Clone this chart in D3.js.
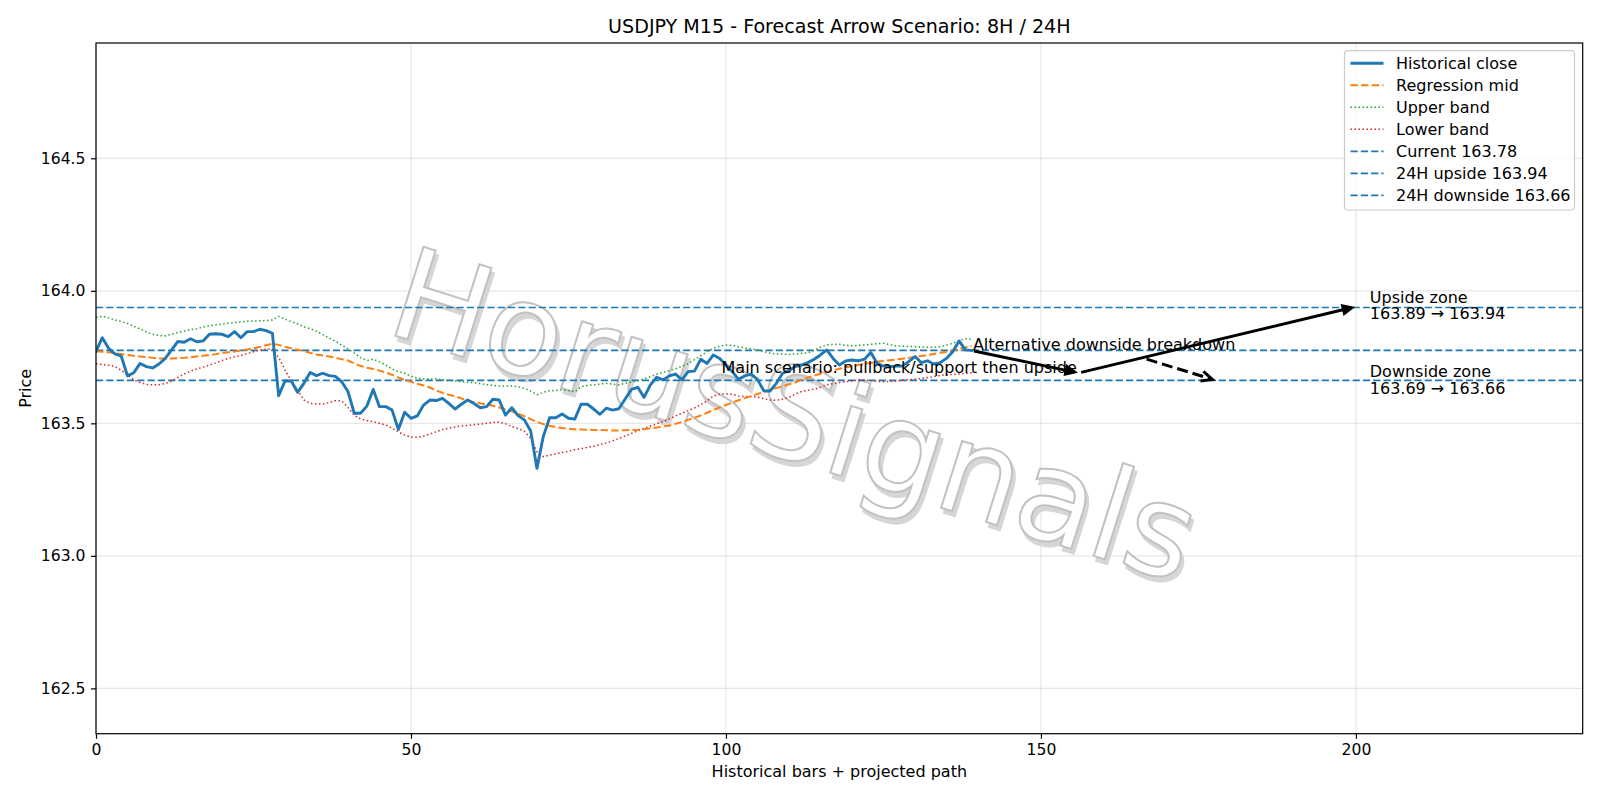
<!DOCTYPE html>
<html>
<head>
<meta charset="utf-8">
<script src="https://cdn.jsdelivr.net/npm/d3@7"></script>
<style>
  html, body { margin: 0; padding: 0; background: #ffffff; }
  svg text { font-family: "DejaVu Sans", sans-serif; fill: #000; }
</style>
</head>
<body>
<svg id="chart" width="1600" height="800"></svg>
<script>
// ---------------- DATA ----------------
const close = [163.772,163.823,163.783,163.762,163.754,163.679,163.691,163.726,163.714,163.709,
163.724,163.745,163.777,163.809,163.806,163.819,163.808,163.811,163.836,163.838,
163.836,163.827,163.846,163.823,163.846,163.846,163.855,163.850,163.840,163.604,
163.660,163.660,163.617,163.651,163.692,163.680,163.689,163.680,163.677,163.657,
163.620,163.538,163.538,163.565,163.628,163.563,163.563,163.550,163.477,163.542,
163.519,163.528,163.569,163.588,163.586,163.594,163.575,163.554,163.572,163.588,
163.575,163.559,163.563,163.591,163.588,163.531,163.559,163.529,163.513,163.471,
163.330,163.450,163.521,163.521,163.535,163.519,163.516,163.572,163.572,163.554,
163.534,163.557,163.550,163.555,163.592,163.628,163.636,163.598,163.645,163.674,
163.664,163.679,163.686,163.664,163.695,163.697,163.742,163.726,163.758,163.745,
163.720,163.695,163.666,163.679,163.686,163.666,163.623,163.622,163.651,163.689,
163.699,163.714,163.720,163.729,163.742,163.758,163.777,163.745,163.720,163.735,
163.739,163.736,163.742,163.767,163.726,163.716,163.714,163.716,163.716,163.733,
163.752,163.729,163.736,163.724,163.729,163.745,163.770,163.811,163.777,163.775];

const regMid = [163.772,163.770,163.768,163.765,163.762,163.758,163.755,163.752,163.750,163.747,
163.745,163.745,163.745,163.746,163.747,163.749,163.752,163.755,163.758,163.761,
163.765,163.768,163.771,163.775,163.779,163.783,163.788,163.795,163.800,163.796,
163.789,163.783,163.778,163.772,163.766,163.760,163.756,163.752,163.748,163.742,
163.737,163.726,163.716,163.710,163.705,163.699,163.692,163.683,163.673,163.664,
163.657,163.649,163.643,163.635,163.624,163.615,163.608,163.602,163.594,163.585,
163.580,163.576,163.571,163.566,163.560,163.553,163.545,163.536,163.527,163.516,
163.505,163.497,163.491,163.486,163.482,163.480,163.478,163.477,163.476,163.475,
163.475,163.474,163.473,163.473,163.474,163.475,163.476,163.478,163.481,163.484,
163.488,163.492,163.498,163.505,163.513,163.521,163.530,163.540,163.550,163.560,
163.569,163.578,163.587,163.595,163.603,163.611,163.618,163.626,163.633,163.640,
163.647,163.654,163.664,163.672,163.680,163.687,163.694,163.700,163.706,163.711,
163.716,163.720,163.725,163.728,163.732,163.735,163.738,163.741,163.744,163.747,
163.751,163.754,163.758,163.762,163.766,163.770,163.775,163.780,163.786,163.792];

const upperBand = [163.900,163.904,163.898,163.890,163.884,163.877,163.866,163.856,163.845,163.836,
163.831,163.830,163.836,163.843,163.848,163.853,163.857,163.863,163.868,163.871,
163.874,163.878,163.880,163.883,163.885,163.886,163.887,163.888,163.890,163.903,
163.893,163.884,163.875,163.865,163.857,163.848,163.835,163.822,163.810,163.795,
163.781,163.765,163.748,163.737,163.742,163.732,163.720,163.705,163.695,163.689,
163.678,163.670,163.667,163.667,163.667,163.664,163.661,163.660,163.657,163.655,
163.653,163.650,163.646,163.643,163.641,163.641,163.641,163.638,163.632,163.622,
163.608,163.617,163.623,163.624,163.626,163.624,163.619,163.638,163.643,163.645,
163.648,163.651,163.648,163.645,163.651,163.656,163.661,163.668,163.676,163.685,
163.692,163.699,163.706,163.715,163.725,163.740,163.755,163.770,163.783,163.791,
163.796,163.794,163.789,163.785,163.781,163.777,163.770,163.765,163.762,163.761,
163.760,163.762,163.764,163.766,163.775,163.787,163.796,163.798,163.798,163.794,
163.793,163.794,163.796,163.798,163.801,163.802,163.797,163.792,163.791,163.790,
163.789,163.788,163.787,163.787,163.789,163.795,163.802,163.812,163.820,163.817];

const lowerBand = [163.725,163.722,163.719,163.715,163.700,163.682,163.664,163.654,163.647,163.645,
163.646,163.650,163.660,163.673,163.686,163.697,163.705,163.712,163.720,163.728,
163.737,163.745,163.751,163.756,163.763,163.770,163.777,163.780,163.780,163.749,
163.701,163.660,163.626,163.588,163.575,163.573,163.573,163.578,163.585,163.585,
163.560,163.530,163.516,163.511,163.506,163.500,163.494,163.482,163.468,163.455,
163.449,163.447,163.452,163.460,163.468,163.477,163.482,163.486,163.490,163.492,
163.495,163.497,163.500,163.503,163.505,163.498,163.488,163.480,163.470,163.443,
163.393,163.374,163.380,163.385,163.390,163.395,163.400,163.405,163.409,163.413,
163.420,163.426,163.434,163.443,163.452,163.462,163.472,163.481,163.490,163.498,
163.507,163.517,163.528,163.538,163.548,163.558,163.570,163.585,163.603,163.610,
163.611,163.610,163.603,163.601,163.601,163.599,163.593,163.588,163.587,163.592,
163.598,163.610,163.620,163.625,163.629,163.636,163.645,163.650,163.654,163.657,
163.660,163.663,163.664,163.661,163.658,163.657,163.658,163.660,163.662,163.665,
163.666,163.669,163.673,163.676,163.681,163.683,163.685,163.686,163.689,163.691];

const levelNames  = ["Current 163.78", "24H upside 163.94", "24H downside 163.66"];
const levelValues = [163.775, 163.937, 163.662];

const xTicks = [0, 50, 100, 150, 200];
const yTicks = [162.5, 163.0, 163.5, 164.0, 164.5];
const xDomain = [0, 236];
const yDomain = [162.329, 164.935];

// arrows
const arrowStarts = [[139, 163.775], [156, 163.69], [166.4, 163.745]];
const arrowEnds   = [[156, 163.69], [200, 163.94], [177.6, 163.663]];
const arrowDashed = [false, false, true];

// annotations
const noteTexts = ["Main scenario: pullback/support then upside", "Alternative downside breakdown"];
const notePos   = [[99.3, 163.69], [139.2, 163.776]];
const zoneTitles = ["Upside zone", "Downside zone"];
const zoneRanges = ["163.89 \u2192 163.94", "163.69 \u2192 163.66"];
const zonePos    = [[202.2, 163.94], [202.2, 163.66]];

const titleText = "USDJPY M15 - Forecast Arrow Scenario: 8H / 24H";
const xLabel = "Historical bars + projected path";
const yLabel = "Price";
const watermark = "HorusSignals";

// ---------------- LAYOUT ----------------
const L = 96, R = 1582.7, T = 43, B = 733.7;
const FS = 16;
const TFS = 15.6;
const svg = d3.select("#chart");
const x = d3.scaleLinear().domain(xDomain).range([L, R]);
const y = d3.scaleLinear().domain(yDomain).range([B, T]);

// grid
const grid = svg.append("g");
grid.selectAll(".gx").data(xTicks).enter().append("line")
  .attr("x1", d => x(d)).attr("x2", d => x(d)).attr("y1", T).attr("y2", B)
  .attr("stroke", "#b0b0b0").attr("stroke-opacity", 0.3).attr("stroke-width", 1.2);
grid.selectAll(".gy").data(yTicks).enter().append("line")
  .attr("y1", d => y(d)).attr("y2", d => y(d)).attr("x1", L).attr("x2", R)
  .attr("stroke", "#b0b0b0").attr("stroke-opacity", 0.3).attr("stroke-width", 1.2);

// clip
const defs = svg.append("defs");
defs.append("clipPath").attr("id", "clipPlot").append("rect")
  .attr("x", L).attr("y", T).attr("width", R - L).attr("height", B - T);

// watermark
const wmOuter = svg.append("g").attr("clip-path", "url(#clipPlot)");
const wm = wmOuter.append("g").attr("transform", "translate(795,415) rotate(17.5)");
wm.append("text").text(watermark)
  .attr("x", 4).attr("y", 4)
  .attr("text-anchor", "middle").attr("dominant-baseline", "central")
  .style("font-size", "128px").style("fill", "#d6d6d6").style("stroke", "#d6d6d6").style("stroke-width", 2);
wm.append("text").text(watermark)
  .attr("text-anchor", "middle").attr("dominant-baseline", "central")
  .style("font-size", "128px").style("fill", "#ffffff").style("stroke", "#c2c2c2").style("stroke-width", 2);

// plot content
const plot = svg.append("g").attr("clip-path", "url(#clipPlot)");
const lineGen = d3.line().x((d, i) => x(i)).y(d => y(d));

plot.selectAll(".lvl").data(levelValues).enter().append("line")
  .attr("x1", L).attr("x2", R).attr("y1", d => y(d)).attr("y2", d => y(d))
  .attr("stroke", "#1f77b4").attr("stroke-width", 1.7).attr("stroke-dasharray", "7.2,3.1");

plot.append("path").datum(upperBand).attr("d", lineGen)
  .attr("fill", "none").attr("stroke", "#2ca02c").attr("stroke-width", 1.5).attr("stroke-dasharray", "1.5,2.5");
plot.append("path").datum(lowerBand).attr("d", lineGen)
  .attr("fill", "none").attr("stroke", "#d62728").attr("stroke-width", 1.5).attr("stroke-dasharray", "1.5,2.5");
plot.append("path").datum(regMid).attr("d", lineGen)
  .attr("fill", "none").attr("stroke", "#ff7f0e").attr("stroke-width", 2).attr("stroke-dasharray", "7.4,3.2");
plot.append("path").datum(close).attr("d", lineGen)
  .attr("fill", "none").attr("stroke", "#1f77b4").attr("stroke-width", 2.9).attr("stroke-linejoin", "round").attr("stroke-linecap", "square");

// arrows
function drawArrow(g, p1, p2, dashed) {
  const x1 = x(p1[0]), y1 = y(p1[1]), x2 = x(p2[0]), y2 = y(p2[1]);
  const dx = x2 - x1, dy = y2 - y1, len = Math.hypot(dx, dy);
  const ux = dx / len, uy = dy / len;
  const sh = 2.5;
  const sx = x1 + ux * sh, sy = y1 + uy * sh;
  const ex = x2 - ux * sh, ey = y2 - uy * sh;
  const hl = 11, hw = 5;
  g.append("line").attr("x1", sx).attr("y1", sy)
    .attr("x2", ex - ux * (dashed ? 1 : hl * 0.6)).attr("y2", ey - uy * (dashed ? 1 : hl * 0.6))
    .attr("stroke", "#000").attr("stroke-width", 3)
    .attr("stroke-dasharray", dashed ? "11,5" : null);
  const bx = ex - ux * hl, by = ey - uy * hl;
  const px = -uy, py = ux;
  if (dashed) {
    g.append("path")
      .attr("d", `M${bx + px * hw},${by + py * hw}L${ex},${ey}L${bx - px * hw},${by - py * hw}`)
      .attr("fill", "none").attr("stroke", "#000").attr("stroke-width", 3).attr("stroke-linejoin", "miter");
  } else {
    g.append("path")
      .attr("d", `M${bx + px * hw},${by + py * hw}L${ex},${ey}L${bx - px * hw},${by - py * hw}Z`)
      .attr("fill", "#000").attr("stroke", "#000").attr("stroke-width", 1.5).attr("stroke-linejoin", "miter");
  }
}
const arrows = svg.append("g");
arrowStarts.forEach((s, i) => drawArrow(arrows, s, arrowEnds[i], arrowDashed[i]));

// annotations
svg.selectAll(".note").data(noteTexts).enter().append("text")
  .attr("x", (d, i) => x(notePos[i][0])).attr("y", (d, i) => y(notePos[i][1]))
  .style("font-size", FS + "px").text(d => d);

zoneTitles.forEach((t, i) => {
  const cx = x(zonePos[i][0]), cy = y(zonePos[i][1]);
  const tx = svg.append("text").attr("x", cx).style("font-size", FS + "px");
  tx.append("tspan").attr("x", cx).attr("y", cy - 4).text(t);
  tx.append("tspan").attr("x", cx).attr("y", cy + 12.6).text(zoneRanges[i]);
});

// frame
svg.append("rect").attr("x", L).attr("y", T).attr("width", R - L).attr("height", B - T)
  .attr("fill", "none").attr("stroke", "#000").attr("stroke-width", 1.2);

// axes
const xAxis = svg.append("g").attr("transform", `translate(0,${B})`)
  .call(d3.axisBottom(x).tickValues(xTicks).tickFormat(d3.format("d")).tickSize(5).tickPadding(5.5));
const yAxis = svg.append("g").attr("transform", `translate(${L},0)`)
  .call(d3.axisLeft(y).tickValues(yTicks).tickFormat(d3.format(".1f")).tickSize(5).tickPadding(5.5));
[xAxis, yAxis].forEach(a => {
  a.select(".domain").remove();
  a.selectAll(".tick line").attr("stroke", "#000").attr("stroke-width", 1.2);
  a.selectAll(".tick text").style("font-size", TFS + "px").style("font-family", "DejaVu Sans").attr("fill", "#000");
});

// title and labels
svg.append("text").attr("x", (L + R) / 2).attr("y", 33).attr("text-anchor", "middle")
  .style("font-size", "19.1px").text(titleText);
svg.append("text").attr("x", (L + R) / 2).attr("y", 777).attr("text-anchor", "middle")
  .style("font-size", FS + "px").text(xLabel);
svg.append("text").attr("transform", `translate(31,${(T + B) / 2}) rotate(-90)`).attr("text-anchor", "middle")
  .style("font-size", FS + "px").text(yLabel);

// legend
const legendItems = [
  {name: "Historical close", color: "#1f77b4", w: 2.9, dash: null},
  {name: "Regression mid", color: "#ff7f0e", w: 2, dash: "7.4,3.2"},
  {name: "Upper band", color: "#2ca02c", w: 1.5, dash: "1.5,2.5"},
  {name: "Lower band", color: "#d62728", w: 1.5, dash: "1.5,2.5"},
  {name: levelNames[0], color: "#1f77b4", w: 1.7, dash: "7.2,3.1"},
  {name: levelNames[1], color: "#1f77b4", w: 1.7, dash: "7.2,3.1"},
  {name: levelNames[2], color: "#1f77b4", w: 1.7, dash: "7.2,3.1"}
];
const lg = svg.append("g");
lg.append("rect").attr("x", 1344.5).attr("y", 50.7).attr("width", 230).attr("height", 159.3)
  .attr("rx", 3.5).attr("fill", "#fff").attr("fill-opacity", 0.8).attr("stroke", "#cccccc").attr("stroke-width", 1.2);
legendItems.forEach((it, i) => {
  const cy = 63.3 + i * 22;
  lg.append("line").attr("x1", 1350.5).attr("x2", 1383.5).attr("y1", cy).attr("y2", cy)
    .attr("stroke", it.color).attr("stroke-width", it.w).attr("stroke-dasharray", it.dash);
  lg.append("text").attr("x", 1396).attr("y", cy + 5.6).style("font-size", FS + "px").text(it.name);
});
</script>
</body>
</html>
